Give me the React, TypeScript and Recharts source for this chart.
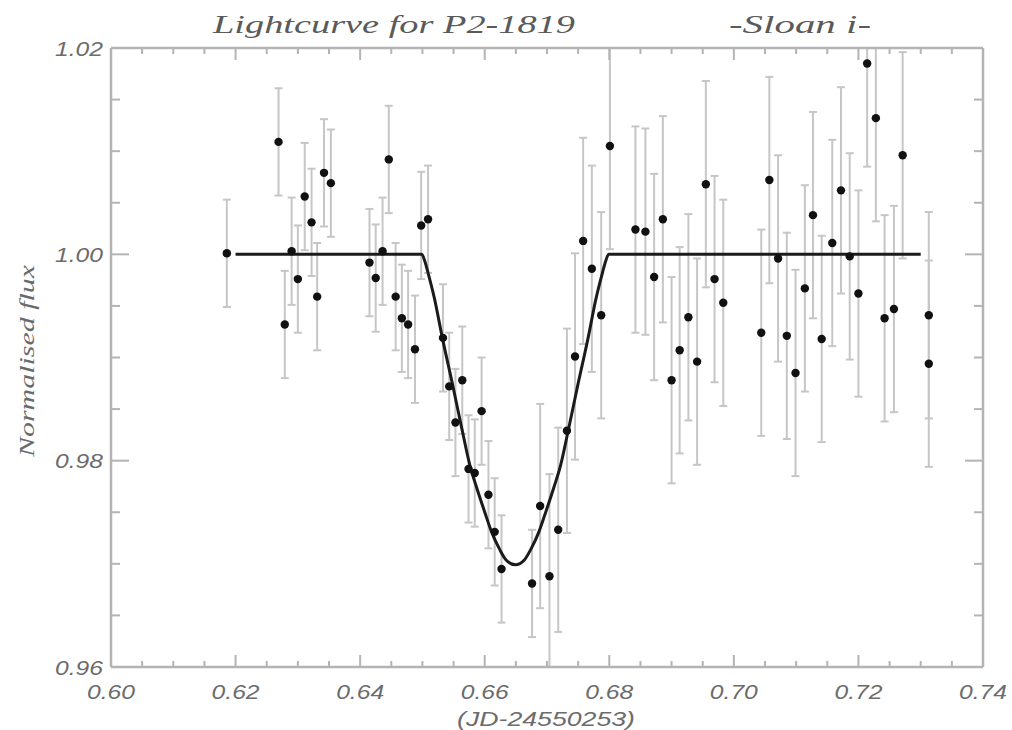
import React from 'react';
import { ComposedChart, Scatter, Line, XAxis, YAxis, ErrorBar } from 'recharts';

// Observed photometry: time (JD-24550253), normalised flux, 1-sigma error
const obsX = [
  0.6186, 0.6269, 0.6279, 0.6290, 0.6300, 0.6311, 0.6322, 0.6331, 0.6342, 0.6353,
  0.6415, 0.6425, 0.6436, 0.6446, 0.6457, 0.6467, 0.6477, 0.6488, 0.6498, 0.6509,
  0.6533, 0.6543, 0.6553, 0.6564, 0.6574, 0.6584, 0.6595, 0.6606, 0.6616, 0.6627,
  0.6676, 0.6689, 0.6704, 0.6718, 0.6732, 0.6745, 0.6758, 0.6772, 0.6787, 0.6801,
  0.6842, 0.6858, 0.6872, 0.6886, 0.6900, 0.6913, 0.6927, 0.6941, 0.6955, 0.6969,
  0.6983, 0.7044, 0.7057, 0.7071, 0.7085, 0.7099, 0.7114, 0.7127, 0.7141, 0.7158,
  0.7172, 0.7186, 0.7200, 0.7214, 0.7228, 0.7242, 0.7257, 0.7271, 0.7313, 0.7313,
];
const obsY = [
  1.0001, 1.0109, 0.9932, 1.0003, 0.9976, 1.0056, 1.0031, 0.9959, 1.0079, 1.0069,
  0.9992, 0.9977, 1.0003, 1.0092, 0.9959, 0.9938, 0.9932, 0.9908, 1.0028, 1.0034,
  0.9919, 0.9872, 0.9837, 0.9878, 0.9792, 0.9788, 0.9848, 0.9767, 0.9731, 0.9695,
  0.9681, 0.9756, 0.9688, 0.9733, 0.9829, 0.9901, 1.0013, 0.9986, 0.9941, 1.0105,
  1.0024, 1.0022, 0.9978, 1.0034, 0.9878, 0.9907, 0.9939, 0.9896, 1.0068, 0.9976,
  0.9953, 0.9924, 1.0072, 0.9996, 0.9921, 0.9885, 0.9967, 1.0038, 0.9918, 1.0011,
  1.0062, 0.9998, 0.9962, 1.0185, 1.0132, 0.9938, 0.9947, 1.0096, 0.9941, 0.9894,
];
const obsErr = [
  0.0052, 0.0052, 0.0052, 0.0052, 0.0052, 0.0052, 0.0052, 0.0052, 0.0052, 0.0052,
  0.0052, 0.0052, 0.0052, 0.0052, 0.0052, 0.0052, 0.0052, 0.0052, 0.0052, 0.0052,
  0.0052, 0.0052, 0.0052, 0.0052, 0.0052, 0.0052, 0.0052, 0.0052, 0.0052, 0.0052,
  0.0052, 0.0099, 0.0099, 0.0099, 0.0099, 0.0100, 0.0100, 0.0100, 0.0100, 0.0100,
  0.0100, 0.0100, 0.0100, 0.0100, 0.0100, 0.0100, 0.0100, 0.0100, 0.0100, 0.0100,
  0.0100, 0.0100, 0.0100, 0.0100, 0.0100, 0.0100, 0.0100, 0.0100, 0.0100, 0.0100,
  0.0100, 0.0100, 0.0100, 0.0100, 0.0100, 0.0100, 0.0100, 0.0100, 0.0100, 0.0100,
];

// Transit model curve
const modelX = [
  0.6200, 0.6499, 0.6504, 0.6509, 0.6519, 0.6532, 0.6549, 0.6564, 0.6576, 0.6587,
  0.6599, 0.6611, 0.6624, 0.6634, 0.6649, 0.6664, 0.6674, 0.6687, 0.6699, 0.6711,
  0.6722, 0.6734, 0.6749, 0.6766, 0.6779, 0.6789, 0.6794, 0.6799, 0.7300,
];
const modelY = [
  1.0000, 1.0000, 0.9993, 0.9982, 0.9958, 0.9919, 0.9872, 0.9829, 0.9796, 0.9774,
  0.9752, 0.9731, 0.9714, 0.9704, 0.9699, 0.9704, 0.9714, 0.9731, 0.9752, 0.9774,
  0.9796, 0.9829, 0.9872, 0.9919, 0.9958, 0.9982, 0.9993, 1.0000, 1.0000,
];

const xTicks = [
  0.600, 0.605, 0.610, 0.615, 0.620, 0.625, 0.630, 0.635, 0.640, 0.645,
  0.650, 0.655, 0.660, 0.665, 0.670, 0.675, 0.680, 0.685, 0.690, 0.695,
  0.700, 0.705, 0.710, 0.715, 0.720, 0.725, 0.730, 0.735, 0.740,
];
const yTicks = [
  0.960, 0.965, 0.970, 0.975, 0.980, 0.985, 0.990, 0.995, 1.000, 1.005, 1.010, 1.015, 1.020,
];

const titleText = 'Lightcurve for P2-1819';
const filterText = '-Sloan i-';
const xLabelText = '(JD-24550253)';
const yLabelText = 'Normalised flux';

const X_DOMAIN: [number, number] = [0.6, 0.74];
const Y_DOMAIN: [number, number] = [0.96, 1.02];

// error bars are clipped at the frame, as in the original plot
const obsData = obsX.map((x, i) => ({
  x,
  y: obsY[i],
  err: [
    Math.min(obsErr[i], obsY[i] - Y_DOMAIN[0]),
    Math.min(obsErr[i], Y_DOMAIN[1] - obsY[i]),
  ],
}));
const modelData = modelX.map((x, i) => ({ x, y: modelY[i] }));

const AXIS = '#b4b4b4';
const LABEL = '#6c6c6c';
const TICKFONT = { fontFamily: '"Liberation Sans", Arial, sans-serif', fontStyle: 'italic' as const, fontSize: 21 };

const isMajor = (v: number) => Math.round(v * 1000) % 20 === 0;

function BottomTick(props: any) {
  const { x, y, payload } = props;
  const v = payload.value as number;
  const major = isMajor(v);
  return (
    <g>
      <line x1={x} y1={y} x2={x} y2={y - (major ? 12 : 6)} stroke={AXIS} strokeWidth={2} />
      {major && (
        <text x={x} y={y + 24} textAnchor="middle" dominantBaseline="central" fill={LABEL}
          textLength={48} lengthAdjust="spacingAndGlyphs" {...TICKFONT}>
          {v.toFixed(2)}
        </text>
      )}
    </g>
  );
}

function TopTick(props: any) {
  const { x, y, payload } = props;
  const major = isMajor(payload.value);
  return <line x1={x} y1={y} x2={x} y2={y + (major ? 12 : 6)} stroke={AXIS} strokeWidth={2} />;
}

function LeftTick(props: any) {
  const { x, y, payload } = props;
  const v = payload.value as number;
  const major = isMajor(v);
  return (
    <g>
      <line x1={x} y1={y} x2={x + (major ? 18 : 9)} y2={y} stroke={AXIS} strokeWidth={2} />
      {major && (
        <text x={x - 8} y={y} textAnchor="end" dominantBaseline="central" fill={LABEL}
          textLength={48} lengthAdjust="spacingAndGlyphs" {...TICKFONT}>
          {v.toFixed(2)}
        </text>
      )}
    </g>
  );
}

function RightTick(props: any) {
  const { x, y, payload } = props;
  const major = isMajor(payload.value);
  return <line x1={x} y1={y} x2={x - (major ? 18 : 9)} y2={y} stroke={AXIS} strokeWidth={2} />;
}

const Dot = (props: any) => <circle cx={props.cx} cy={props.cy} r={4.2} fill="#111" />;

export default function App() {
  return (
    <div style={{ position: 'absolute', left: 0, top: 0, width: 1012, height: 730, background: '#fff' }}>
      <ComposedChart width={1012} height={730} margin={{ top: 47, right: 28, bottom: 62, left: 110 }}>
        <XAxis xAxisId="bottom" dataKey="x" type="number" domain={X_DOMAIN} allowDataOverflow
          ticks={xTicks} interval={0} height={1} tickSize={0} tickMargin={0} tickLine={false}
          axisLine={{ stroke: AXIS, strokeWidth: 2.5 }} tick={<BottomTick />} />
        <XAxis xAxisId="top" orientation="top" dataKey="x" type="number" domain={X_DOMAIN} allowDataOverflow
          ticks={xTicks} interval={0} height={1} tickSize={0} tickMargin={0} tickLine={false}
          axisLine={{ stroke: AXIS, strokeWidth: 2.5 }} tick={<TopTick />} />
        <YAxis yAxisId="left" dataKey="y" type="number" domain={Y_DOMAIN} allowDataOverflow
          ticks={yTicks} interval={0} width={1} tickSize={0} tickMargin={0} tickLine={false}
          axisLine={{ stroke: AXIS, strokeWidth: 2.5 }} tick={<LeftTick />} />
        <YAxis yAxisId="right" orientation="right" dataKey="y" type="number" domain={Y_DOMAIN} allowDataOverflow
          ticks={yTicks} interval={0} width={1} tickSize={0} tickMargin={0} tickLine={false}
          axisLine={{ stroke: AXIS, strokeWidth: 2.5 }} tick={<RightTick />} />
        <Scatter data={obsData} dataKey="y" xAxisId="bottom" yAxisId="left" shape={<Dot />} isAnimationActive={false}>
          <ErrorBar dataKey="err" direction="y" width={4} stroke="#c6c6c6" strokeWidth={2} isAnimationActive={false} />
        </Scatter>
        <Scatter data={obsData} dataKey="y" xAxisId="top" yAxisId="right" shape={() => null} isAnimationActive={false} />
        <Line data={modelData} dataKey="y" xAxisId="bottom" yAxisId="left" type="monotone" stroke="#1b1b1b"
          strokeWidth={3} dot={false} activeDot={false} isAnimationActive={false} />
      </ComposedChart>
      <svg width={1012} height={730} style={{ position: 'absolute', left: 0, top: 0, pointerEvents: 'none' }}>
        <text x={213} y={33} fill="#5a5a5a" fontFamily='"Liberation Serif", serif' fontStyle="italic" fontSize={26}
          textLength={362} lengthAdjust="spacingAndGlyphs">{titleText}</text>
        <text x={729} y={33} fill="#5a5a5a" fontFamily='"Liberation Serif", serif' fontStyle="italic" fontSize={26}
          textLength={142} lengthAdjust="spacingAndGlyphs">{filterText}</text>
        <text x={457} y={726} fill={LABEL} textLength={178} lengthAdjust="spacingAndGlyphs" {...TICKFONT}>
          {xLabelText}
        </text>
        <text x={27} y={361} transform="rotate(-90 27 361)" textAnchor="middle" dominantBaseline="central"
          fill="#6a6a6a" fontFamily='"Liberation Serif", serif' fontStyle="italic" fontSize={21}
          textLength={192} lengthAdjust="spacingAndGlyphs">{yLabelText}</text>
      </svg>
    </div>
  );
}
